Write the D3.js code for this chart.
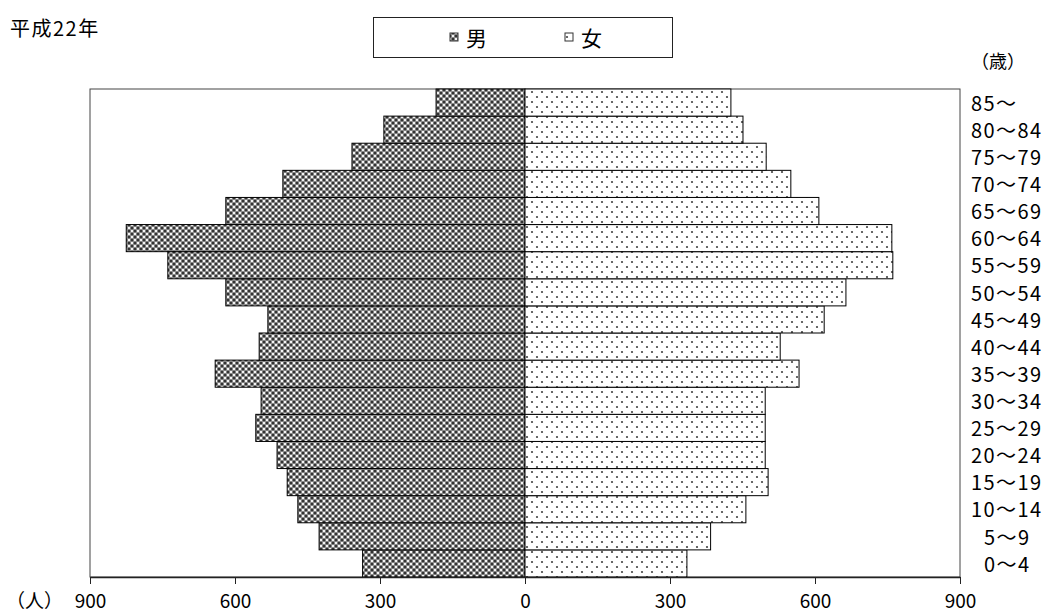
<!DOCTYPE html>
<html><head><meta charset="utf-8">
<script src="https://cdn.jsdelivr.net/npm/d3@7/dist/d3.min.js"></script>
<style>
body{margin:0;background:#fff;}
text{font-family:"Noto Sans CJK JP","Noto Sans",sans-serif;fill:#000;}
</style></head>
<body><svg id="c" width="1047" height="615"></svg>
<script>
const ageGroups = ["0～4","5～9","10～14","15～19","20～24","25～29","30～34","35～39","40～44","45～49","50～54","55～59","60～64","65～69","70～74","75～79","80～84","85～"];
const male =   [336,426,470,492,513,557,546,641,550,532,619,739,825,619,501,358,292,184];
const female = [335,384,457,503,497,497,497,567,528,619,664,761,759,608,550,499,451,426];
const tickValues = [-900,-600,-300,0,300,600,900];
const seriesNames = ["男","女"];
const title = "平成22年";

const svg = d3.select("#c");
const L=90,R=960,T=89,B=577;
const x = d3.scaleLinear().domain([-900,900]).range([L,R]);
const y = d3.scaleBand().domain(ageGroups.slice().reverse()).range([T,B]).padding(0);

const defs = svg.append("defs");
const pm = defs.append("pattern").attr("id","pm").attr("patternUnits","userSpaceOnUse").attr("width",6).attr("height",6);
pm.append("rect").attr("width",6).attr("height",6).attr("fill","#959595");
[[0,0],[6,0],[0,6],[6,6],[3,3]].forEach(p=>pm.append("circle").attr("cx",p[0]).attr("cy",p[1]).attr("r",1.6).attr("fill","#333"));
[[3,0],[0,3],[6,3],[3,6]].forEach(p=>pm.append("circle").attr("cx",p[0]).attr("cy",p[1]).attr("r",1.3).attr("fill","#f4f4f4"));
const pf = defs.append("pattern").attr("id","pf").attr("patternUnits","userSpaceOnUse").attr("width",10).attr("height",10);
pf.append("rect").attr("width",10).attr("height",10).attr("fill","#fff");
[[2,2],[7,7]].forEach(p=>pf.append("circle").attr("cx",p[0]).attr("cy",p[1]).attr("r",1.1).attr("fill","#444"));

// plot frame
svg.append("rect").attr("x",L).attr("y",T).attr("width",R-L).attr("height",B-T).attr("fill","none").attr("stroke","#444").attr("stroke-width",1);

// bars
svg.append("g").selectAll("rect").data(ageGroups.map((a,i)=>({a,v:male[i]}))).join("rect")
  .attr("x",d=>x(-d.v)).attr("width",d=>x(0)-x(-d.v))
  .attr("y",d=>y(d.a)).attr("height",y.bandwidth())
  .attr("fill","url(#pm)").attr("stroke","#000").attr("stroke-width",1);
svg.append("g").selectAll("rect").data(ageGroups.map((a,i)=>({a,v:female[i]}))).join("rect")
  .attr("x",x(0)).attr("width",d=>x(d.v)-x(0))
  .attr("y",d=>y(d.a)).attr("height",y.bandwidth())
  .attr("fill","url(#pf)").attr("stroke","#000").attr("stroke-width",1);

// bottom axis
const ax = svg.append("g").attr("transform",`translate(0,${B})`)
  .call(d3.axisBottom(x).tickValues(tickValues).tickSize(7).tickSizeOuter(0).tickFormat(d=>Math.abs(d)));
ax.select(".domain").attr("stroke","#222").attr("stroke-width",1.5);
ax.selectAll(".tick line").attr("stroke","#222");
ax.selectAll(".tick text").attr("font-size",19).attr("y",24).attr("dy","0.36em")
  .style("font-family",'"Noto Sans CJK JP",sans-serif');

// category labels
svg.append("g").selectAll("text").data(ageGroups).join("text")
  .attr("x",d=>/^\d～/.test(d)?984:971)
  .attr("y",d=>y(d)+y.bandwidth()/2+1).attr("dy","0.36em")
  .attr("font-size",20).attr("letter-spacing",1.4).text(d=>d);

svg.append("text").attr("x",971).attr("y",62).attr("dy","0.36em").attr("font-size",18).text("（歳）");
svg.append("text").attr("x",6).attr("y",601).attr("dy","0.36em").attr("font-size",19).text("（人）");
svg.append("text").attr("x",10).attr("y",29).attr("dy","0.36em").attr("font-size",20).attr("letter-spacing",1.5).text(title);

// legend
const lg = svg.append("g");
lg.append("rect").attr("x",373.5).attr("y",17.5).attr("width",299).attr("height",40).attr("fill","#fff").attr("stroke","#222");
const lx=[450,565];
seriesNames.forEach((n,i)=>{
  lg.append("rect").attr("x",lx[i]).attr("y",33).attr("width",8).attr("height",8)
    .attr("fill",i===0?"url(#pm)":"url(#pf)").attr("stroke","#333");
  lg.append("text").attr("x",lx[i]+16).attr("y",38).attr("dy","0.36em").attr("font-size",21).text(n);
});
</script></body></html>
